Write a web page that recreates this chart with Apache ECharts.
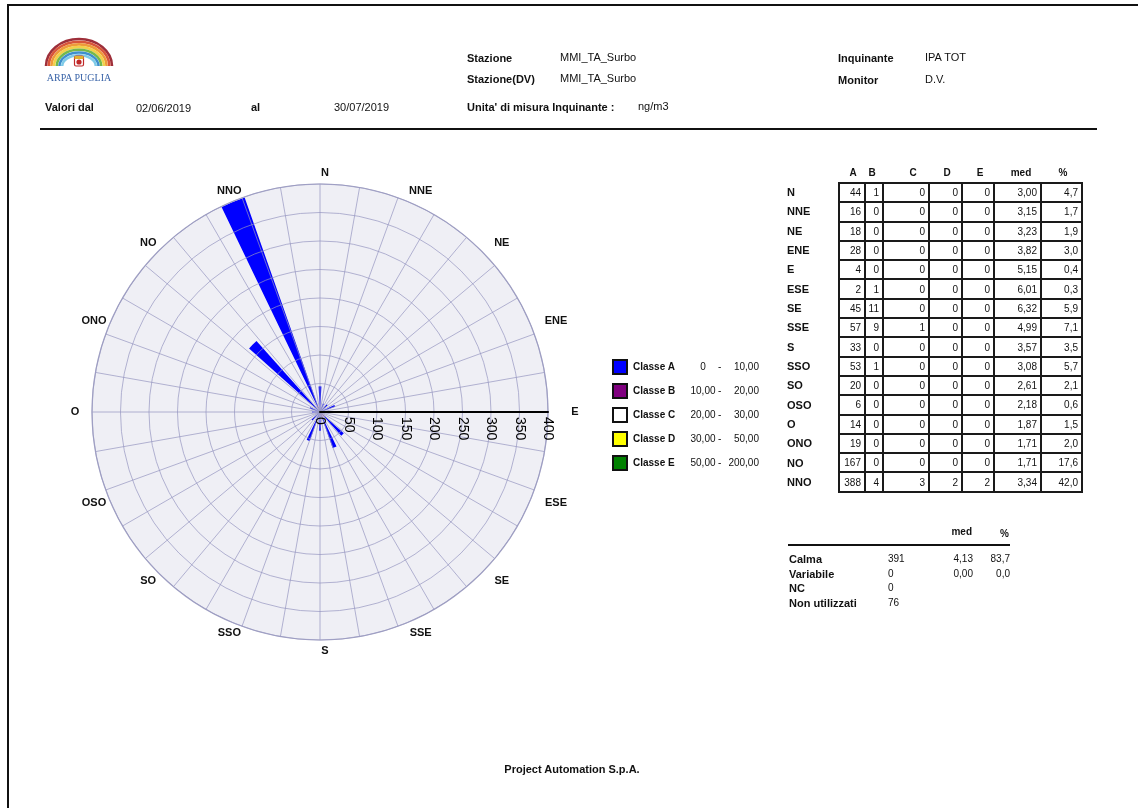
<!DOCTYPE html>
<html>
<head>
<meta charset="utf-8">
<title>Rosa dei venti - MMI_TA_Surbo</title>
<script src="https://cdn.jsdelivr.net/npm/echarts@6/dist/echarts.min.js"></script>
<style>
  html, body { margin: 0; padding: 0; background: #fff; overflow: hidden; }
  body { width: 1138px; height: 808px; position: relative; font-family: "Liberation Sans", Arial, sans-serif; color: #111; }
  #chart { position: absolute; left: 0; top: 0; width: 1138px; height: 808px; }
  .abs { position: absolute; white-space: nowrap; font-size: 11px; line-height: 14px; }
  .b { font-weight: bold; }
  #frame { position: absolute; left: 7px; top: 4px; width: 1300px; height: 1000px; border-top: 2px solid #111; border-left: 2px solid #111; }
  #rule { position: absolute; left: 40px; top: 128px; width: 1057px; height: 2px; background: #111; }
  table.dir { position: absolute; border-collapse: collapse; font-size: 10px; }
  table.dir td { border: 2px solid #1a1a1a; height: 17.3px; padding: 0 3px 0 0; text-align: right; line-height: 17px; }
  .leg-box { position: absolute; width: 12px; height: 12px; border: 2px solid #111; }
</style>
</head>
<body>
<div id="chart"></div>
<div id="frame"></div>
<div id="rule"></div>
<div id="overlay"></div>
<script>
// Wind directions and concentration classes
const directions = ['N','NNE','NE','ENE','E','ESE','SE','SSE','S','SSO','SO','OSO','O','ONO','NO','NNO'];
const classA = [44,16,18,28,4,2,45,57,33,53,20,6,14,19,167,388];
const classB = [1,0,0,0,0,1,11,9,0,1,0,0,0,0,0,4];
const classC = [0,0,0,0,0,0,0,1,0,0,0,0,0,0,0,3];
const classD = [0,0,0,0,0,0,0,0,0,0,0,0,0,0,0,2];
const classE = [0,0,0,0,0,0,0,0,0,0,0,0,0,0,0,2];
const medValues = ['3,00','3,15','3,23','3,82','5,15','6,01','6,32','4,99','3,57','3,08','2,61','2,18','1,87','1,71','1,71','3,34'];
const pctValues = ['4,7','1,7','1,9','3,0','0,4','0,3','5,9','7,1','3,5','5,7','2,1','0,6','1,5','2,0','17,6','42,0'];

const classNames = ['Classe A','Classe B','Classe C','Classe D','Classe E'];
const classFrom = ['0','10,00','20,00','30,00','50,00'];
const classTo = ['10,00','20,00','30,00','50,00','200,00'];
const classColors = ['#0000ff','#800080','#ffffff','#ffff00','#008000'];

const summaryNames = ['Calma','Variabile','NC','Non utilizzati'];
const summaryCount = ['391','0','0','76'];
const summaryMed = ['4,13','0,00','',''];
const summaryPct = ['83,7','0,0','',''];

const radiusMax = 400;
const radiusStep = 50;

const FONT = '"Liberation Sans", Arial, sans-serif';

// ---------- text overlay: header, legend, tables, footer ----------
const overlay = document.getElementById('overlay');
function txt(s, x, yc, opts) {
  opts = opts || {};
  const d = document.createElement('div');
  d.className = 'abs' + (opts.bold ? ' b' : '');
  d.textContent = s;
  d.style.top = (yc - 7) + 'px';
  if (opts.size) d.style.fontSize = opts.size + 'px';
  if (opts.right) { d.style.right = (1138 - x) + 'px'; }
  else if (opts.center) { d.style.left = (x - 100) + 'px'; d.style.width = '200px'; d.style.textAlign = 'center'; }
  else { d.style.left = x + 'px'; }
  overlay.appendChild(d);
  return d;
}

// logo: rainbow arcs, shield and name
overlay.insertAdjacentHTML('beforeend',
  '<svg style="position:absolute;left:44px;top:37px" width="70" height="48" viewBox="0 0 70 48">' +
  ['#9e2f3a','#d8553a','#ee9a3a','#f2d04a','#74b84c','#3f8fcc','#7fcbe8'].map((c, i) => {
    const rx = 33 - i * 2.7, ry = 27 - i * 2.7;
    return '<path d="M ' + (35 - rx) + ' 29 A ' + rx + ' ' + ry + ' 0 0 1 ' + (35 + rx) + ' 29" fill="none" stroke="' + c + '" stroke-width="2.6"/>';
  }).join('') +
  '<rect x="30.5" y="19" width="9" height="10" rx="1.5" fill="#ffffff" stroke="#c02828" stroke-width="1.2"/>' +
  '<rect x="30.5" y="19" width="9" height="3" fill="#e0b030"/>' +
  '<circle cx="35" cy="25" r="2.6" fill="#c02828"/>' +
  '<text x="35" y="44" text-anchor="middle" font-family="Liberation Serif, serif" font-size="10" fill="#3a64a8">ARPA PUGLIA</text>' +
  '</svg>');

txt('Valori dal', 45, 107, {bold: true});
txt('02/06/2019', 136, 108);
txt('al', 251, 107, {bold: true});
txt('30/07/2019', 334, 107);
txt('Stazione', 467, 58, {bold: true});
txt('MMI_TA_Surbo', 560, 57);
txt('Stazione(DV)', 467, 79, {bold: true});
txt('MMI_TA_Surbo', 560, 78);
txt("Unita' di misura Inquinante :", 467, 107, {bold: true});
txt('ng/m3', 638, 106);
txt('Inquinante', 838, 58, {bold: true});
txt('IPA TOT', 925, 57);
txt('Monitor', 838, 80, {bold: true});
txt('D.V.', 925, 79);
txt('Project Automation S.p.A.', 572, 769, {bold: true, center: true});

// legend of classes
classNames.forEach((name, i) => {
  const yc = 367 + i * 24;
  const box = document.createElement('div');
  box.className = 'leg-box';
  box.style.left = '612px';
  box.style.top = (yc - 8) + 'px';
  box.style.background = classColors[i];
  overlay.appendChild(box);
  txt(name, 633, yc, {bold: true, size: 10});
  txt(classFrom[i], 703, yc, {center: true, size: 10});
  txt('-', 718, yc, {size: 10});
  txt(classTo[i], 759, yc, {right: true, size: 10});
});

// direction table
const colHeads = ['A','B','C','D','E','med','%'];
const headX = [853, 872, 913, 947, 980, 1021, 1063];
const colEdges = [838, 864, 882, 928, 961, 993, 1040, 1081];
colHeads.forEach((h, j) => txt(h, headX[j], 173, {bold: true, center: true, size: 10}));
const table = document.createElement('table');
table.className = 'dir';
table.style.left = colEdges[0] + 'px';
table.style.top = '182px';
directions.forEach((d, i) => {
  const tr = document.createElement('tr');
  const vals = [classA[i], classB[i], classC[i], classD[i], classE[i], medValues[i], pctValues[i]];
  vals.forEach((v, j) => {
    const td = document.createElement('td');
    td.textContent = v;
    td.style.width = (colEdges[j + 1] - colEdges[j] - 5) + 'px';
    tr.appendChild(td);
  });
  table.appendChild(tr);
  txt(d, 787, 192 + i * 19.33, {bold: true});
});
overlay.appendChild(table);

// calm / variable summary
txt('med', 972, 532, {bold: true, right: true, size: 10});
txt('%', 1009, 534, {bold: true, right: true, size: 10});
const sline = document.createElement('div');
sline.style.cssText = 'position:absolute;left:788px;top:544px;width:222px;height:2px;background:#111';
overlay.appendChild(sline);
summaryNames.forEach((n, i) => {
  const yc = 559 + i * 14.6;
  txt(n, 789, yc, {bold: true});
  txt(summaryCount[i], 888, yc, {size: 10});
  if (summaryMed[i]) txt(summaryMed[i], 973, yc, {right: true, size: 10});
  if (summaryPct[i]) txt(summaryPct[i], 1010, yc, {right: true, size: 10});
});

// ---------- wind rose ----------
const chart = echarts.init(document.getElementById('chart'), null, {renderer: 'canvas'});
const gridLine = {color: 'rgba(150,150,192,0.7)', width: 1};
const center = [320, 412];
const R = 228;
const classData = [classA, classB, classC, classD, classE];

// higher classes sit at the root of each petal, class A forms the outer part
const stackOrder = [4, 3, 2, 1, 0];

// compass labels around the rose (slightly flattened ring, nudged right)
const compassText = directions.map((d, i) => {
  const a = i * 2 * Math.PI / directions.length;
  return {
    type: 'text', z: 10,
    x: center[0] + 5 + (R + 22) * Math.sin(a),
    y: center[1] - (R + 11) * Math.cos(a),
    style: {text: d, font: 'bold 11px ' + FONT, fill: '#111', align: 'center', verticalAlign: 'middle'}
  };
});

chart.setOption({
  animation: false,
  textStyle: {fontFamily: FONT},
  polar: [
    {center: center, radius: R},
    {center: center, radius: R}
  ],
  angleAxis: [
    {
      polarIndex: 0, type: 'category', data: directions,
      startAngle: 90 + 180 / directions.length, clockwise: true, boundaryGap: true,
      axisLine: {show: false}, axisTick: {show: false}, splitLine: {show: false},
      axisLabel: {show: false}
    },
    {
      polarIndex: 1, type: 'value', min: 0, max: 360, interval: 10, startAngle: 0, z: 5,
      axisLine: {show: true, lineStyle: {color: '#a9a9c6', width: 1.2}},
      axisTick: {show: false}, axisLabel: {show: false},
      splitLine: {show: true, lineStyle: gridLine}
    }
  ],
  radiusAxis: [
    {
      polarIndex: 0, type: 'value', min: 0, max: radiusMax, interval: radiusStep,
      axisLine: {show: false}, axisTick: {show: false}, axisLabel: {show: false},
      splitLine: {show: false},
      splitArea: {show: true, areaStyle: {color: ['#efeff5']}}
    },
    {
      polarIndex: 1, type: 'value', min: 0, max: radiusMax, interval: radiusStep, z: 6,
      axisLine: {show: true, lineStyle: {color: '#000', width: 2}},
      axisTick: {show: false},
      axisLabel: {show: true, rotate: -90, fontSize: 14, color: '#000', margin: -5,
                  align: 'left', verticalAlign: 'middle', fontFamily: FONT},
      splitLine: {show: true, lineStyle: gridLine}
    }
  ],
  graphic: compassText,
  series: stackOrder.map(i => ({
    name: classNames[i], type: 'bar', coordinateSystem: 'polar', polarIndex: 0,
    stack: 'rose', barWidth: '28%', data: classData[i],
    itemStyle: {color: classColors[i]}, z: 2
  }))
});
</script>
</body>
</html>
